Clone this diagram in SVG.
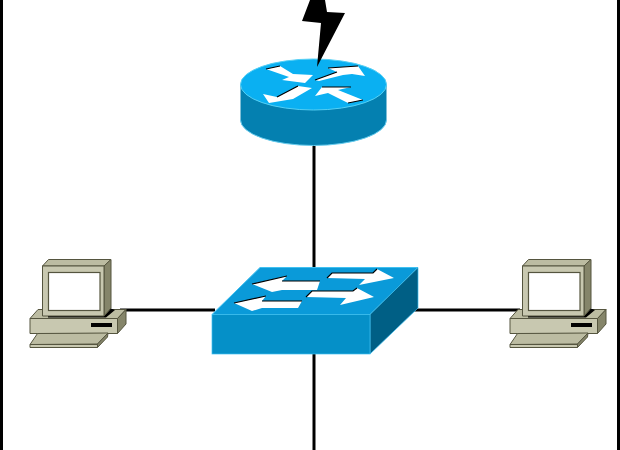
<svg xmlns="http://www.w3.org/2000/svg" width="620" height="450" viewBox="0 0 620 450">
<style>
.link{stroke:#000;stroke-width:3;fill:none}
.pc{stroke:#55553f;stroke-width:1;stroke-linejoin:round}
.f{fill:#c8c8b0}.t{fill:#bcbca2}.s{fill:#85856a}
.w{fill:#fff}
.shadow{fill:none;stroke:#000;stroke-width:1.2}
</style>
<defs>
<g id="computer">
<polygon class="pc t" points="30,318.5 38,309.5 126,309.5 117.5,318.5"/>
<polygon class="pc s" points="117.5,318.5 126,309.5 126,324 117.5,333.5"/>
<rect class="pc f" x="30" y="318.5" width="87.5" height="15"/>
<rect x="91" y="323" width="21" height="4" fill="#000"/>
<polygon class="pc t" points="37.5,333.5 108,333 97.5,344 30,344.5"/>
<polygon class="pc s" points="108,333 107.5,337 97.5,347.5 97.5,344"/>
<rect class="pc f" x="30" y="344.5" width="67.5" height="3"/>
<polygon points="48,316 104,316 111,308.5 115,310 106,317.5 48,317.5" fill="#000"/>
<polygon class="pc t" points="42.5,266 48.5,259.5 111,259.5 104,266"/>
<polygon class="pc s" points="104,266 111,259.5 111,308 104,316"/>
<rect class="pc f" x="42.5" y="266" width="61.5" height="50"/>
<rect x="48.5" y="272.5" width="51.5" height="38" fill="#fff" stroke="#55553f" stroke-width="1.2"/>
</g>
</defs>
<rect width="620" height="450" fill="#fff"/>
<g id="border">
<rect x="0" y="0" width="3" height="450" fill="#000"/>
<rect x="617" y="0" width="3" height="450" fill="#000"/>
</g>
<g id="connectors">
<line class="link" x1="314" y1="140" x2="314" y2="270"/>
<line class="link" x1="314" y1="350" x2="314" y2="450"/>
<line class="link" x1="120" y1="310" x2="215" y2="310"/>
<line class="link" x1="412" y1="310" x2="520" y2="310"/>
</g>
<g id="router">
<path d="M240.5 84.5V120A73 25.5 0 0 0 386.5 120V84.5Z" fill="#0480b0"/>
<path d="M240.5 120A73 25.5 0 0 0 386.5 120" fill="none" stroke="#66ccee" stroke-width="1"/>
<ellipse cx="313.5" cy="84.5" rx="73" ry="25.5" fill="#0ab0f2" stroke="#55d0f5" stroke-width="1"/>
<polygon class="w" points="266,69 280,66 293,74 313,75 305,83 282,80 289,77"/>
<polygon class="w" points="315,80 337,72 328,68 358,66 365,76 352,74 343,75 319,81"/>
<polygon class="w" points="263,94 277,97 298,86 312,88 293,99 269,103"/>
<polygon class="w" points="315,96 322,87 351,87 338,90 363,100 348,103 328,93"/>
<path d="M266 69L280 66M315 80L337 72M328 68L358 66M277 97L298 86M322 87H351M348 103L363 100" class="shadow"/>
<polygon id="bolt" points="310,0 325,0 327,12 345,13 317,67 321,23 302,21" fill="#000"/>
</g>
<g id="switch">
<polygon points="260,267.5 418,267.5 370,314.5 212,314.5" fill="#0a9ad9" stroke="#40c0f0" stroke-width="1"/>
<polygon points="370,314.5 418,267.5 418,308 370,354" fill="#005f85" stroke="#40c0f0" stroke-width="0.7"/>
<rect x="212" y="314.5" width="158" height="39.5" fill="#0590c8" stroke="#40c0f0" stroke-width="0.7"/>
<polygon class="w" points="252,284 287,276 282,281 320,281 317,290 282,290 272,292"/>
<polygon class="w" points="234,303 266,296 262,301 302,301 298,308 262,308 252,311"/>
<polygon class="w" points="327,278 332,273 373,273 377,269 394,278 359,285 365,279"/>
<polygon class="w" points="306,297 312,291 353,291 357,288 374,297 340,305 346,298"/>
<path d="M234 303L266 296M252 284L287 276M327 278L332 273H373L377 269M306 297L312 291H353L357 288M282 281H320M262 301H302" class="shadow"/>
</g>
<g id="pc-left"><use href="#computer"/></g>
<g id="pc-right"><use href="#computer" x="480"/></g>
</svg>
